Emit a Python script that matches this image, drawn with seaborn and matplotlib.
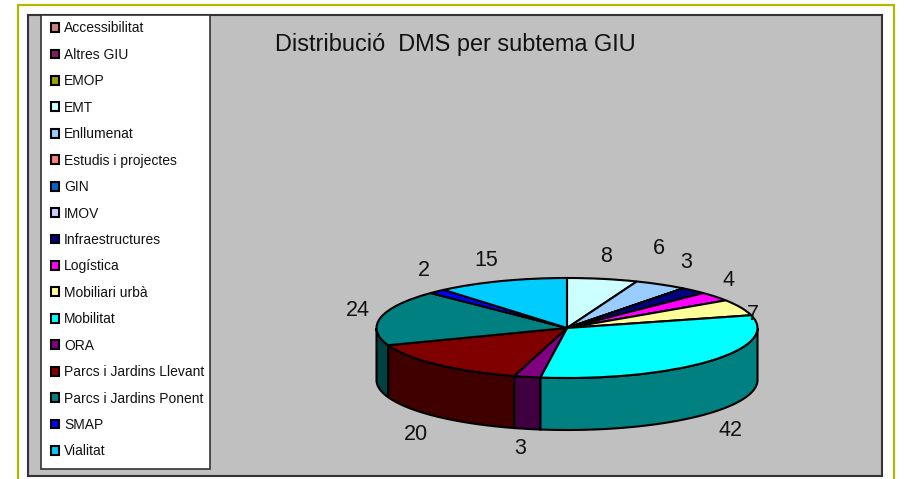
import numpy as np
import matplotlib
matplotlib.use('Agg')
import matplotlib.pyplot as plt
from matplotlib.patches import Rectangle
import seaborn as sns

W, H = 905, 479

subtemes = ['Accessibilitat', 'Altres GIU', 'EMOP', 'EMT', 'Enllumenat', 'Estudis i projectes',
            'GIN', 'IMOV', 'Infraestructures', 'Logística', 'Mobiliari urbà', 'Mobilitat', 'ORA',
            'Parcs i Jardins Llevant', 'Parcs i Jardins Ponent', 'SMAP', 'Vialitat']
valors = [0, 0, 0, 8, 6, 0, 0, 0, 3, 4, 7, 42, 3, 20, 24, 2, 15]
colors = ['#CC8080', '#802060', '#A0A000', '#CCFFFF', '#99CCFF', '#FF8080', '#0066CC', '#CCCCFF',
          '#000080', '#FF00FF', '#FFFF99', '#00FFFF', '#800080', '#800000', '#008080', '#0000FF',
          '#00CCFF']

# where the value labels sit, in pixels of the image
etiquetes_px = {3: (606, 257), 4: (659, 249), 8: (686, 262), 9: (728, 281), 10: (753, 314),
                11: (730, 430), 12: (520, 449), 13: (416, 435), 14: (358, 311), 15: (424, 271),
                16: (486, 260)}

sns.set_theme(style='white', rc={'axes.facecolor': '#C0C0C0'})
plt.rcParams['font.family'] = ['Liberation Sans', 'DejaVu Sans']
palette = sns.color_palette(colors)


def fig_xy(x, y):
    return x / W, 1 - y / H


# pie geometry in pixels
cx, cy, rx, ry, depth = 567, 328, 190.5, 50, 52
left, top, right, bottom = 28, 15, 882, 476

fig = plt.figure(figsize=(W / 100, H / 100), dpi=100, facecolor='white')
x0, y0 = fig_xy(left, bottom)
ax = fig.add_axes([x0, y0, (right - left) / W, (bottom - top) / H])

# side wall of the pie, front half only
total = sum(valors)
acum = np.cumsum([0] + valors)
gruix = depth / ry
for i, v in enumerate(valors):
    if v == 0:
        continue
    t1 = 90 - acum[i] * 360 / total
    t0 = 90 - acum[i + 1] * 360 / total
    a0, a1 = t0 % 360, (t0 % 360) + (t1 - t0)
    lo, hi = max(a0, 180), min(a1, 360)
    if hi <= lo:
        continue
    th = np.radians(np.linspace(lo, hi, 80))
    xs = np.cos(th)
    ys = np.sin(th)
    fosc = tuple(np.array(palette[i]) * 0.5)
    ax.fill(np.r_[xs, xs[::-1]], np.r_[ys, ys[::-1] - gruix], facecolor=fosc,
            edgecolor='black', linewidth=1.5)

wedges, _ = ax.pie(valors, colors=palette, startangle=90, counterclock=False, radius=1,
                   wedgeprops={'edgecolor': 'black', 'linewidth': 1.5})

ax.set_aspect('auto')
ax.set_xlim((left - cx) / rx, (right - cx) / rx)
ax.set_ylim((cy - bottom) / ry, (cy - top) / ry)
ax.set_frame_on(True)
ax.set_axis_on()
ax.set_xticks([])
ax.set_yticks([])
ax.set_facecolor('#C0C0C0')
for s in ax.spines.values():
    s.set_visible(True)
    s.set_color('#333333')
    s.set_linewidth(1.5)

for i, (px, py) in etiquetes_px.items():
    tx, ty = fig_xy(px, py)
    ax.text(tx, ty, str(valors[i]), transform=fig.transFigure, ha='center', va='center',
            fontsize=15.5, color='#111111', zorder=6)

tx, ty = fig_xy(275, 44)
ax.text(tx, ty, 'Distribució  DMS per subtema GIU', transform=fig.transFigure, ha='left',
        va='center', fontsize=16.9, color='#111111')

# legend box
bx, by = fig_xy(40.5, 469)
ax.add_patch(Rectangle((bx, by), (209.7 - 40.5) / W, (469 - 15) / H, transform=fig.transFigure,
                       facecolor='white', edgecolor='#333333', linewidth=1.2, zorder=4))
lx, ly = fig_xy(50.5, 21.5)
fs = 10
ax.legend(wedges, subtemes, loc='upper left', bbox_to_anchor=(lx, ly), bbox_transform=fig.transFigure,
          frameon=False, fontsize=fs, borderpad=0, borderaxespad=0, labelspacing=0.895,
          handlelength=0.6, handleheight=0.6, handletextpad=0.38, labelcolor='#111111')

# olive outer frame, runs past the bottom of the image
ox, oy = fig_xy(18, 500)
fig.add_artist(Rectangle((ox, oy), (894 - 18) / W, (500 - 5) / H, transform=fig.transFigure,
                         facecolor='none', edgecolor='#B0B800', linewidth=1.6))

fig.savefig('out.png', dpi=100)
